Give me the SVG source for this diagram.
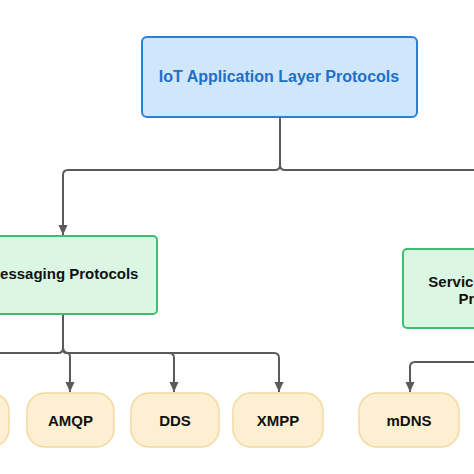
<svg xmlns="http://www.w3.org/2000/svg" width="474" height="474" viewBox="0 0 474 474">
<defs>
<style>
text{font-family:"Liberation Sans",Arial,sans-serif;font-weight:bold;font-size:15px;text-anchor:middle;fill:#111}
.root{fill:#cfe6fb;stroke:#2b80d6;stroke-width:2}
.cat{fill:#dbf7e4;stroke:#3fbf6e;stroke-width:2}
.leaf{fill:#fdf0d2;stroke:#f2d9a0;stroke-width:1.5}
.conn path{fill:none;stroke:#5a5a5a;stroke-width:2}
</style>
<marker id="arr" viewBox="0 0 10 10" refX="10" refY="5" markerWidth="10" markerHeight="10" markerUnits="userSpaceOnUse" orient="auto">
<path d="M0 0.5 L10 5 L0 9.5 Z" fill="#5a5a5a"/>
</marker>
</defs>
<rect width="474" height="474" fill="#fff"/>
<g class="conn">
<path d="M280 117 V165 Q280 170 275 170 H68 Q63 170 63 175 V235" marker-end="url(#arr)"/>
<path d="M280 117 V165 Q280 170 285 170 H488 Q493 170 493 175 V247" marker-end="url(#arr)"/>
<path d="M63 314 V348 Q63 353 58 353 H-30 Q-35 353 -35 358 V392" marker-end="url(#arr)"/>
<path d="M63 314 V348 Q63 353 67 353 Q70 353 70 357 V392" marker-end="url(#arr)"/>
<path d="M63 314 V348 Q63 353 68 353 H169 Q174 353 174 358 V392" marker-end="url(#arr)"/>
<path d="M63 314 V348 Q63 353 68 353 H274 Q279 353 279 358 V392" marker-end="url(#arr)"/>
<path d="M493 328 V357 Q493 362 488 362 H415 Q410 362 410 367 V392" marker-end="url(#arr)"/>
</g>
<g id="root"><rect class="root" x="142" y="37" width="275" height="80" rx="5"/><text x="279" y="81.5" style="fill:#1e6fc8;font-size:16px">IoT Application Layer Protocols</text></g>
<g id="messaging"><rect class="cat" x="-31" y="236" width="188" height="78" rx="4"/><text x="63" y="278.5">Messaging Protocols</text></g>
<g id="service"><rect class="cat" x="403" y="249" width="180" height="79" rx="4"/><text x="493" y="287">Service Discovery</text><text x="493" y="304">Protocols</text></g>
<g id="leaf0"><rect class="leaf" x="-79" y="393" width="88" height="54" rx="18"/></g>
<g id="amqp"><rect class="leaf" x="27" y="393" width="87" height="54" rx="18"/><text x="70.5" y="425.5">AMQP</text></g>
<g id="dds"><rect class="leaf" x="131" y="393" width="88" height="54" rx="18"/><text x="175" y="425.5">DDS</text></g>
<g id="xmpp"><rect class="leaf" x="233" y="393" width="90" height="54" rx="18"/><text x="278" y="425.5">XMPP</text></g>
<g id="mdns"><rect class="leaf" x="359" y="393" width="100" height="54" rx="18"/><text x="409" y="425.5">mDNS</text></g>
</svg>
